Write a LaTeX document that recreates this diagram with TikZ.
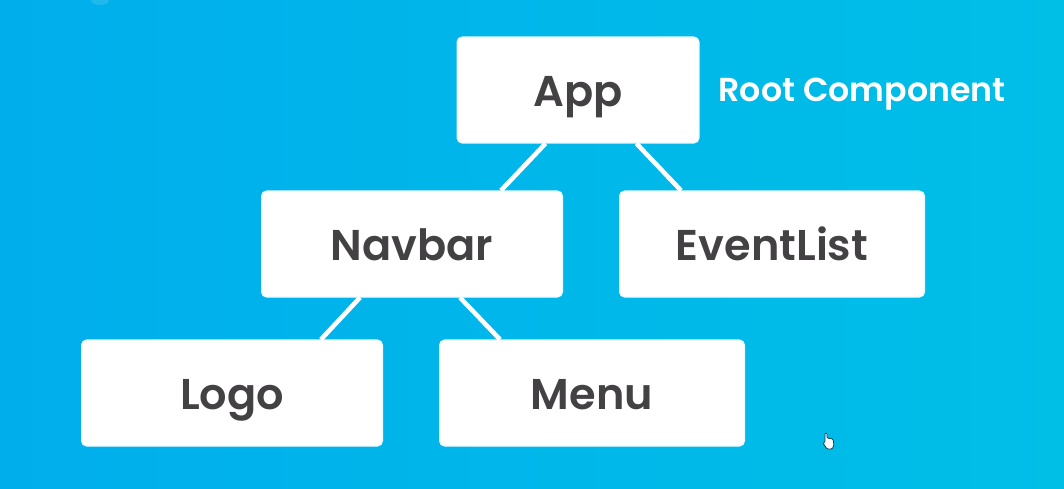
\documentclass[tikz,border=0pt]{standalone}
\usepackage{fontspec}
\setmainfont[BoldFont={Poppins SemiBold}]{Poppins}
\definecolor{bgleft}{HTML}{00AEEC}
\definecolor{bgright}{HTML}{00BFE7}
\definecolor{boxtext}{HTML}{444144}
\tikzset{
    comp/.style={draw=white!92!bgright,line width=0.6pt,fill=white,rounded corners=0.1cm,minimum height=2.12cm,
        text=boxtext,text height=0.84cm,text depth=0.2cm,font=\fontsize{24.5}{28}\selectfont\bfseries},
    link/.style={draw=white,line width=2.6pt}
}
\begin{document}
\begin{tikzpicture}[x=0.02cm,y=-0.02cm]

    \useasboundingbox (0,0) rectangle (1064,488);
    \shade[left color=bgleft,right color=bgright] (0,0) rectangle (1064,488);
    \fill[white,opacity=0.12] (100,0) ellipse (9 and 5);

    %boxes
    \node[comp,minimum width=4.84cm] (app) at (578,90) {App};
    \node[comp,minimum width=6.02cm] (navbar) at (412,244) {Navbar};
    \node[comp,minimum width=6.10cm] (eventlist) at (772,244) {EventList};
    \node[comp,minimum width=6.02cm] (logo) at (232,393) {Logo};
    \node[comp,minimum width=6.10cm] (menu) at (592,393) {Menu};

    \node[text=white,font=\fontsize{18.9}{20}\selectfont\bfseries] (root) at (862,94) {Root Component};

    %links
    \draw[link] ([xshift=1.78cm]app.south west) -- ([xshift=4.80cm]navbar.north west);
    \draw[link] ([xshift=3.60cm]app.south west) -- ([xshift=1.24cm]eventlist.north west);
    \draw[link] ([xshift=1.98cm]navbar.south west) -- ([xshift=4.80cm]logo.north west);
    \draw[link] ([xshift=3.98cm]navbar.south west) -- ([xshift=1.22cm]menu.north west);

    %cursor
    \draw[fill=white,draw=black!70!bgleft,line width=0.4pt,rounded corners=0.02cm]
        (825,433) -- (827,433) -- (827,438) -- (833,439) -- (834,445) -- (832,449) -- (827,449) -- (823,443) -- (825,442) -- cycle;

\end{tikzpicture}
\end{document}
